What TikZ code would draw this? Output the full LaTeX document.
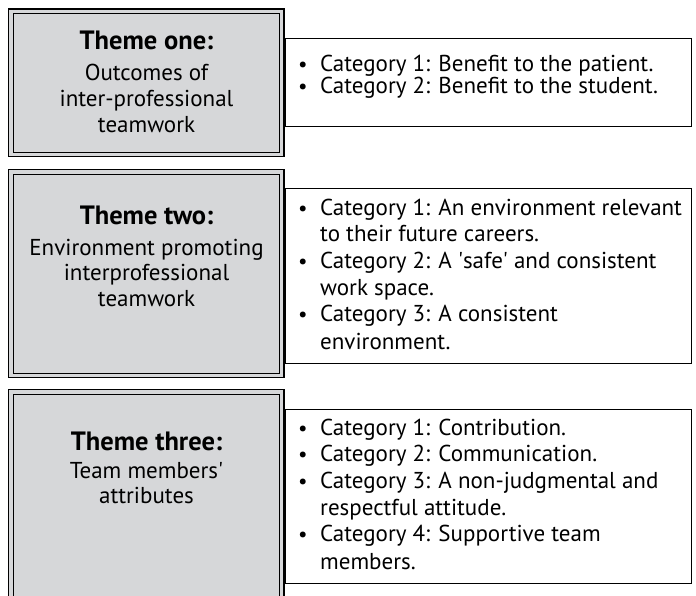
\documentclass[tikz,border=0pt]{standalone}
\usepackage{fontspec}
\setmainfont{PT Sans}
\definecolor{boxgray}{RGB}{214,215,217}
\begin{document}
\begin{tikzpicture}[x=1pt,y=-1pt,
 outerbox/.style={draw=black, line width=1.6pt, fill=boxgray, anchor=north west, inner sep=0, outer sep=0},
 innerbox/.style={draw=black, line width=0.9pt},
 catbox/.style={draw=black, line width=1pt, fill=white, anchor=north west, inner sep=0, outer sep=0, minimum width=406},
 ttl/.style={font=\fontsize{26.5}{30}\selectfont\bfseries, inner sep=0, anchor=base},
 sub/.style={font=\fontsize{23}{27}\selectfont, inner sep=0, anchor=base},
 cat/.style={font=\fontsize{23}{27}\selectfont, inner sep=0, anchor=base west},
 bul/.style={font=\fontsize{21}{25}\selectfont, inner sep=0, anchor=base west}]
\clip (0,0) rectangle (696,596);
% theme boxes
\node[outerbox, minimum width=275.5, minimum height=147.5] (t1) at (8.5,9) {};
\draw[innerbox] ([shift={(4.5,4.5)}]t1.north west) rectangle ([shift={(-4.5,-4.5)}]t1.south east);
\node[outerbox, minimum width=275.5, minimum height=208] (t2) at (8.5,169.5) {};
\draw[innerbox] ([shift={(4.5,4.5)}]t2.north west) rectangle ([shift={(-4.5,-4.5)}]t2.south east);
\node[outerbox, minimum width=275.5, minimum height=240] (t3) at (8.5,389.5) {};
\draw[innerbox] ([shift={(4.5,4.5)}]t3.north west) rectangle ([shift={(-4.5,-4.5)}]t3.south east);
% category boxes
\node[catbox, minimum height=88] (c1) at (285,39) {};
\node[catbox, minimum height=174] (c2) at (285,189) {};
\node[catbox, minimum height=174] (c3) at (285,409) {};
% theme one text
\node[ttl] (t1a) at (146.5,50) {Theme one:};
\node[sub] (t1b) at (146.5,81) {Outcomes of};
\node[sub] (t1c) at (146.5,107) {inter-professional};
\node[sub] (t1d) at (146.5,133) {teamwork};
% theme two text
\node[ttl] (t2a) at (146.5,225) {Theme two:};
\node[sub] (t2b) at (146.5,255) {Environment promoting};
\node[sub] (t2c) at (146.5,280.5) {interprofessional};
\node[sub] (t2d) at (146.5,306) {teamwork};
% theme three text
\node[ttl] (t3a) at (146.5,450) {Theme three:};
\node[sub] (t3b) at (146.5,478) {Team members\textquotesingle};
\node[sub] (t3c) at (146.5,503) {attributes};
% categories one
\node[bul] (c1b1) at (298,72) {\textbullet};
\node[cat] (c1l1) at (320,72) {Category 1: Benefit to the patient.};
\node[bul] (c1b2) at (298,93.5) {\textbullet};
\node[cat] (c1l2) at (320,93.5) {Category 2: Benefit to the student.};
% categories two
\node[bul] (c2b1) at (298,215) {\textbullet};
\node[cat] (c2l1) at (320,215) {Category 1: An environment relevant};
\node[cat] (c2l2) at (320,241.5) {to their future careers.};
\node[bul] (c2b2) at (298,268) {\textbullet};
\node[cat] (c2l3) at (320,268) {Category 2: A \textquotesingle safe\textquotesingle\ and consistent};
\node[cat] (c2l4) at (320,295) {work space.};
\node[bul] (c2b3) at (298,321.5) {\textbullet};
\node[cat] (c2l5) at (320,321.5) {Category 3: A consistent};
\node[cat] (c2l6) at (320,349) {environment.};
% categories three
\node[bul] (c3b1) at (298,435) {\textbullet};
\node[cat] (c3l1) at (320,435) {Category 1: Contribution.};
\node[bul] (c3b2) at (298,461.5) {\textbullet};
\node[cat] (c3l2) at (320,461.5) {Category 2: Communication.};
\node[bul] (c3b3) at (298,488) {\textbullet};
\node[cat] (c3l3) at (320,488) {Category 3: A non-judgmental and};
\node[cat] (c3l4) at (320,515) {respectful attitude.};
\node[bul] (c3b4) at (298,541.5) {\textbullet};
\node[cat] (c3l5) at (320,541.5) {Category 4: Supportive team};
\node[cat] (c3l6) at (320,569) {members.};
\end{tikzpicture}
\end{document}
